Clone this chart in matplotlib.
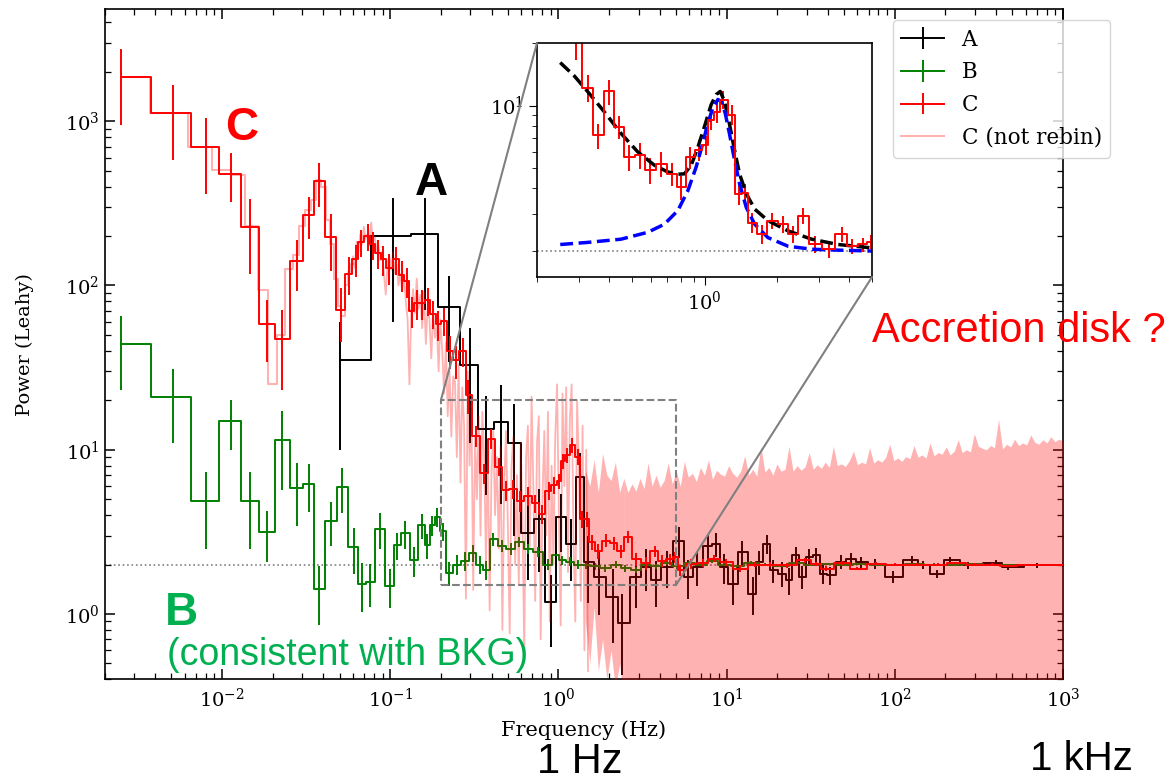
import matplotlib
matplotlib.use("Agg")
import matplotlib.pyplot as plt
import numpy as np
from matplotlib.lines import Line2D
from matplotlib.patches import ConnectionPatch
from matplotlib.ticker import NullFormatter

plt.rcParams['font.family'] = 'DejaVu Serif'
plt.rcParams['mathtext.fontset'] = 'dejavuserif'

# A (black, rebinned)
freq_a = [0.0504, 0.104, 0.16, 0.224, 0.298, 0.371, 0.456, 0.547, 0.656, 0.77,
          0.9, 1.04, 1.19, 1.35, 1.5, 1.75, 2.1, 2.4, 2.9, 3.3,
          3.8, 4.4, 5.2, 5.9, 6.7, 7.7, 8.6, 9.6, 10.9, 12.4,
          14.3, 15.6, 17.3, 19.0, 21.4, 23.5, 25.7, 28.0, 31.0, 34.0,
          37.6, 41.0, 48.0, 55.0, 63.0, 76.0, 98.0, 126.0, 148.0, 178.0,
          214.0, 273.0, 398.0, 470.0, 700.0, 1000.0]
power_a = [35, 200, 206, 74, 33, 13.3, 14.7, 11, 3.1, 3.8,
           1.18, 3.9, 2.68, 6.8, 2.07, 1.68, 1.27, 0.875, 1.68, 1.93,
           1.6, 1.93, 2.8, 1.68, 1.93, 2.6, 2.68, 1.93, 1.53, 2.4,
           1.33, 2.07, 2.68, 1.84, 1.76, 1.6, 2.27, 1.68, 2.22, 2.27,
           1.76, 1.72, 2.07, 2.17, 2.07, 2.02, 1.68, 2.12, 1.98, 1.76,
           2.12, 1.98, 2.04, 1.93, 1.98, 1.98]
err_a = [25, 140, 135, 40, 22, 8, 10, 8, 1.5, 2.0,
         0.55, 1.5, 1.1, 2.8, 0.9, 0.7, 0.6, 0.45, 0.6, 0.55,
         0.5, 0.5, 0.6, 0.45, 0.45, 0.45, 0.45, 0.4, 0.4, 0.4,
         0.35, 0.35, 0.35, 0.3, 0.3, 0.3, 0.28, 0.27, 0.26, 0.25,
         0.24, 0.22, 0.2, 0.18, 0.16, 0.15, 0.14, 0.12, 0.11, 0.1,
         0.1, 0.09, 0.08, 0.08, 0.07, 0.06]

# B (green, rebinned)
freq_b = [2.49e-3, 5.11e-3, 8.0e-3, 1.13e-2, 1.46e-2, 1.85e-2, 2.27e-2, 2.78e-2, 3.30e-2, 3.78e-2,
          4.44e-2, 5.2e-2, 6.05e-2, 6.8e-2, 7.6e-2, 8.7e-2, 0.100, 0.110, 0.123, 0.139,
          0.154, 0.166, 0.178, 0.19, 0.205, 0.225, 0.25, 0.28, 0.31, 0.34,
          0.37, 0.41, 0.46, 0.52, 0.58, 0.66, 0.76, 0.87, 0.97, 1.05,
          1.17, 1.3, 1.45, 1.65, 1.9, 2.2, 2.5, 2.9, 3.3, 3.8,
          4.4, 5.1, 6.0, 7.0, 8.2, 9.6, 11.5, 14.0, 17.0, 21.0,
          26.0, 32.0, 40.0, 50.0, 63.0, 80.0, 100.0, 130.0, 170.0, 220.0,
          290.0, 380.0, 500.0, 650.0, 850.0, 1000.0]
power_b = [44, 21, 4.9, 15, 4.9, 3.16, 11.5, 5.85, 6.2, 1.41,
           3.7, 5.9, 2.56, 1.53, 1.56, 3.3, 1.49, 2.62, 3.09, 2.12,
           3.47, 2.62, 3.47, 3.9, 3.2, 1.77, 2.0, 2.1, 2.35, 2.0,
           1.86, 2.85, 2.6, 2.5, 2.74, 2.5, 2.4, 2.0, 2.3, 2.12,
           2.08, 2.0, 2.0, 1.95, 1.9, 2.0, 1.9, 1.85, 2.0, 1.95,
           2.05, 1.95, 2.05, 2.0, 2.1, 2.0, 1.95, 2.05, 2.0, 1.97,
           2.03, 2.0, 2.02, 1.98, 2.01, 2.0, 1.99, 2.02, 2.0, 1.99,
           2.01, 2.0, 1.99, 2.0, 2.0, 2.0]
err_b = [21, 10, 2.4, 5, 2.4, 1.1, 5.8, 2.4, 2.0, 0.55,
         1.1, 1.8, 0.8, 0.5, 0.45, 0.8, 0.4, 0.5, 0.6, 0.45,
         0.6, 0.45, 0.5, 0.5, 0.4, 0.3, 0.28, 0.27, 0.27, 0.25,
         0.24, 0.25, 0.22, 0.2, 0.2, 0.18, 0.17, 0.15, 0.15, 0.14,
         0.13, 0.12, 0.11, 0.1, 0.1, 0.09, 0.09, 0.08, 0.08, 0.07,
         0.07, 0.06, 0.06, 0.06, 0.05, 0.05, 0.05, 0.05, 0.04, 0.04,
         0.04, 0.04, 0.03, 0.03, 0.03, 0.03, 0.03, 0.03, 0.03, 0.03,
         0.03, 0.02, 0.02, 0.02, 0.02, 0.02]

# C (red, rebinned)
freq_c = [2.49e-3, 5.11e-3, 8.0e-3, 1.13e-2, 1.46e-2, 1.85e-2, 2.27e-2, 2.78e-2, 3.30e-2, 3.78e-2,
          4.44e-2, 5.08e-2, 5.7e-2, 6.22e-2, 6.72e-2, 7.33e-2, 7.88e-2, 8.45e-2, 9.08e-2, 9.86e-2,
          0.108, 0.117, 0.125, 0.134, 0.1435, 0.154, 0.167, 0.18, 0.193, 0.21,
          0.226, 0.246, 0.27, 0.291,
          0.325, 0.36, 0.398, 0.441, 0.485, 0.537, 0.594, 0.659, 0.73, 0.80,
          0.874, 0.944, 1.01, 1.066, 1.13, 1.2, 1.3, 1.39, 1.47, 1.58,
          1.73, 1.91, 2.13, 2.34, 2.58, 2.89, 3.3, 3.73, 4.13, 4.6,
          4.95,
          5.3, 6.1, 7.2, 8.4, 9.9, 12.0, 14.8, 18.0, 22.8, 29.4,
          34.0, 39.0, 48.6, 60.0, 77.0, 100.0, 133.0, 180.0, 231.0, 300.0,
          380.0, 470.0, 600.0, 800.0, 1000.0]
power_c = [1850, 1120, 700, 480, 228, 58, 47, 140, 270, 430,
           198, 71, 118, 144, 183, 200, 178, 158, 144, 128,
           144, 116, 106, 70, 78, 78, 81, 67, 58, 61,
           40, 35, 40, 21.5,
           12.2, 7.2, 11.7, 7.9, 5.67, 5.78, 4.9, 5.26, 4.71, 4.06,
           5.64, 6.1, 6.46, 8.55, 9.28, 10.7, 9.04, 3.77, 3.8, 2.74,
           2.41, 2.8, 2.69, 2.41, 2.96, 2.15, 2.04, 2.41, 2.11, 2.15,
           2.22,
           1.84, 2.02, 2.05, 2.17, 2.07, 1.89, 2.0, 2.0, 1.98, 2.12,
           2.02, 1.89, 2.04, 1.89, 2.02, 2.0, 2.0, 2.0, 2.05, 2.0,
           2.0, 1.96, 1.98, 1.99, 1.98]
err_c = [900, 540, 340, 160, 110, 24, 24, 48, 78, 130,
         75, 26, 30, 32, 35, 38, 35, 32, 30, 28,
         28, 25, 22, 15, 16, 16, 16, 13, 12, 12,
         9, 8, 8, 5,
         1.8, 1.0, 1.6, 1.0, 0.8, 0.8, 0.7, 0.7, 0.6, 0.55,
         0.7, 0.7, 0.7, 0.9, 1.0, 1.1, 1.0, 0.45, 0.4, 0.3,
         0.25, 0.25, 0.25, 0.22, 0.25, 0.2, 0.18, 0.2, 0.18, 0.17,
         0.17,
         0.14, 0.13, 0.12, 0.11, 0.1, 0.09, 0.08, 0.08, 0.07, 0.07,
         0.06, 0.06, 0.05, 0.05, 0.04, 0.04, 0.04, 0.03, 0.03, 0.03,
         0.03, 0.02, 0.02, 0.02, 0.02]

# C not rebinned: single bins at low frequency
freq_raw = [0.0025, 0.005, 0.0075, 0.01, 0.0125, 0.015, 0.0175, 0.02, 0.0225, 0.025,
            0.0275, 0.03, 0.0325, 0.035, 0.0375, 0.04, 0.0425, 0.045, 0.0475, 0.05,
            0.0525, 0.055, 0.0575, 0.06]
power_raw = [1850, 1120, 700, 505, 470, 230, 94, 25, 50, 126,
             154, 230, 290, 330, 440, 400, 250, 180, 110, 75,
             65, 100, 120, 135]
# dense part 0.06-1.5 Hz, values read at evenly spaced pixel columns
raw_mid = [150, 128, 185, 160, 205, 178, 228, 192, 206, 175,
           242, 185, 198, 160, 176, 142, 160, 118, 88, 138,
           150, 125, 160, 118, 135, 100, 118, 92, 115, 80,
           62, 25, 70, 95, 68, 110, 72, 88, 55, 92,
           44, 75, 62, 36, 70, 48, 58, 30, 62, 40,
           22, 45, 16, 30, 12, 28, 26, 9, 33, 6.3,
           24, 14, 1.24, 30, 8, 19, 1.4, 12, 5, 16,
           3, 17, 9, 2, 11, 1.05, 7, 13, 4, 9,
           2.5, 10.4, 0.8, 6, 13, 3.5, 0.76, 8, 12, 2,
           7, 1.5, 11, 4, 0.57, 9, 14, 2.5, 21, 6,
           1.2, 11, 16, 0.7, 5, 13, 3, 17, 0.9, 8,
           2, 12, 25, 4, 0.85, 22, 6, 24, 1.8, 15,
           25, 3, 0.9, 20, 8, 1.2, 14, 0.6, 10, 0.45]
# 1.45-2.45 Hz band: lower and upper edges
band_top = [7.5, 6.0, 8.7, 5.5, 9.5, 7.0, 6.5, 8.4, 5.5, 6.7]
band_low = [0.9, 0.5, 1.1, 0.45, 0.7, 0.4, 0.6, 0.35, 0.5, 0.3]
# upper edge of the noise above 2.4 Hz
raw_top = [6.7, 5.5, 6.2, 5.6, 6.7, 5.8, 8.3, 6.0, 7.0, 5.9,
           6.5, 8.3, 6.2, 7.4, 6.0, 8.5, 6.8, 7.2, 6.4, 7.8,
           7.0, 8.7, 6.6, 7.5, 7.1, 6.9, 8.0, 7.2, 6.8, 7.4,
           9.2, 7.0, 7.6, 6.9, 10.5, 7.3, 7.8, 7.0, 8.2, 7.4,
           7.6, 10.5, 7.4, 8.0, 7.5, 7.9, 9.6, 7.6, 8.1, 7.7,
           8.4, 7.8, 10.5, 8.0, 8.2, 7.9, 8.6, 9.8, 8.1, 8.4,
           8.2, 10.3, 8.3, 8.7, 8.4, 9.0, 10.8, 8.6, 8.9, 8.5,
           9.1, 8.8, 10.6, 9.0, 9.3, 8.9, 11.0, 9.2, 9.6, 9.4,
           10.4, 9.3, 9.8, 11.5, 9.6, 10.0, 9.7, 12.5, 10.5, 10.2,
           10.0, 10.6, 10.3, 15.3, 10.1, 10.8, 10.4, 11.6, 10.6, 11.0,
           10.7, 12.3, 11.1, 10.8, 11.5, 11.0, 12.0, 11.2, 11.6, 11.3]

# inset model curves
model_f = [0.25, 0.286, 0.325, 0.38, 0.448, 0.526, 0.618, 0.702, 0.774, 0.825,
           0.88, 0.938, 1.0, 1.066, 1.119, 1.163, 1.212, 1.27, 1.335, 1.4,
           1.494, 1.62, 1.84, 2.23, 2.8, 3.61, 5.0]
model_total = [16.1, 13.9, 11.7, 9.4, 7.36, 6.0, 5.17, 4.8, 4.68, 4.7,
               5.17, 6.3, 7.94, 10.1, 11.3, 11.7, 10.5, 8.2, 6.1, 4.7,
               3.77, 3.18, 2.8, 2.5, 2.28, 2.15, 2.07]
qpo_f = [0.25, 0.325, 0.448, 0.579, 0.68, 0.774, 0.852, 0.923, 0.984, 1.032,
         1.083, 1.137, 1.174, 1.22, 1.27, 1.335, 1.4, 1.494, 1.62, 1.84,
         2.23, 2.8, 3.61, 5.0]
qpo_p = [2.15, 2.2, 2.28, 2.46, 2.69, 3.13, 3.9, 5.07, 6.6, 8.2,
         9.74, 10.7, 10.5, 9.2, 7.36, 5.47, 4.22, 3.24, 2.69, 2.32,
         2.11, 2.04, 2.02, 2.0]

zoom_x = (0.2, 5.0)
zoom_y = (1.5, 20.0)
noise_level = 2.0

fig = plt.figure(figsize=(11.73, 7.83), dpi=100)
ax = fig.add_axes([0.0891, 0.1324, 0.8171, 0.8557])
ax.set_xscale('log')
ax.set_yscale('log')

ax.axhline(noise_level, color='grey', ls=':', lw=1.2, zorder=1)
eb_a = ax.errorbar(freq_a, power_a, yerr=err_a, color='black', lw=1.4,
                   elinewidth=1.4, drawstyle='steps-mid', zorder=2)
eb_b = ax.errorbar(freq_b, power_b, yerr=err_b, color='green', lw=1.4,
                   elinewidth=1.4, drawstyle='steps-mid', zorder=2)

ax.plot(freq_raw, power_raw, drawstyle='steps-mid', color='red', alpha=0.3, lw=1.5, zorder=3)
ax.plot(np.geomspace(0.06, 1.5, len(raw_mid)), raw_mid, color='red', alpha=0.3, lw=1.3, zorder=3)
ax.fill_between(np.geomspace(1.45, 2.45, len(band_top)), band_low, band_top,
                color='red', alpha=0.3, lw=0, zorder=3)
ax.fill_between(np.geomspace(2.45, 1000, len(raw_top)), 0.1, raw_top,
                color='red', alpha=0.3, lw=0, zorder=3)

eb_c = ax.errorbar(freq_c, power_c, yerr=err_c, color='red', lw=1.4,
                   elinewidth=1.4, drawstyle='steps-mid', zorder=4)

ax.plot([zoom_x[0], zoom_x[1], zoom_x[1], zoom_x[0], zoom_x[0]],
        [zoom_y[0], zoom_y[0], zoom_y[1], zoom_y[1], zoom_y[0]],
        ls='--', color='grey', lw=1.5, zorder=5)

ax.set_xlim(2e-3, 1e3)
ax.set_ylim(0.4, 4800)
ax.tick_params(which='both', direction='in', top=True, right=True, labelsize=14)
ax.tick_params(axis='x', pad=6)
ax.tick_params(which='major', length=7, width=1.1)
ax.tick_params(which='minor', length=4, width=0.9)
for s in ax.spines.values():
    s.set_linewidth(1.2)
ax.set_xlabel('Frequency (Hz)', fontsize=15, labelpad=7)
ax.set_ylabel('Power (Leahy)', fontsize=14, labelpad=22)

raw_handle = Line2D([], [], color='red', alpha=0.3, lw=1.5)
ax.legend([eb_a, eb_b, eb_c, raw_handle], ['A', 'B', 'C', 'C (not rebin)'],
          loc='upper left', bbox_to_anchor=(0.8223, 0.984), borderaxespad=0,
          fontsize=15.5, framealpha=0.8)

# inset
ins = fig.add_axes([0.4578, 0.6462, 0.2856, 0.2989])
ins.set_xscale('log')
ins.set_yscale('log')
ins.axhline(noise_level, color='grey', ls=':', lw=1.2)
ins.errorbar(freq_c, power_c, yerr=err_c, color='red', lw=1.4,
             elinewidth=1.4, drawstyle='steps-mid')
ins.plot(model_f, model_total, '--', color='black', lw=2.5)
ins.plot(qpo_f, qpo_p, '--', color='blue', lw=2.5)
ins.set_xlim(*zoom_x)
ins.set_ylim(*zoom_y)
ins.xaxis.set_minor_formatter(NullFormatter())
ins.yaxis.set_minor_formatter(NullFormatter())
ins.tick_params(which='both', direction='out', labelsize=14)
ins.tick_params(which='major', length=6)
ins.tick_params(which='minor', length=3.5)
for s in ins.spines.values():
    s.set_linewidth(1.2)

for xy_a, xy_b in [((zoom_x[0], zoom_y[1]), (0, 1)), ((zoom_x[1], zoom_y[0]), (1, 0))]:
    con = ConnectionPatch(xyA=xy_a, coordsA='data', axesA=ax,
                          xyB=xy_b, coordsB='axes fraction', axesB=ins,
                          color='grey', lw=1.5)
    fig.add_artist(con)

# annotations
sans = 'Liberation Sans'
fig.text(0.1918, 0.8212, 'C', color='#ff0000', fontsize=33, fontweight='bold', family=sans)
fig.text(0.3538, 0.7510, 'A', color='black', fontsize=33, fontweight='bold', family=sans)
fig.text(0.1407, 0.2018, 'B', color='#00b050', fontsize=33, fontweight='bold', family=sans)
fig.text(0.1424, 0.1507, '(consistent with BKG)', color='#00b050', fontsize=27, family=sans)
fig.text(0.7434, 0.5636, 'Accretion disk ?', color='#ff0000', fontsize=30, family=sans)
fig.text(0.4578, 0.0125, '1 Hz', color='black', fontsize=30, family=sans)
fig.text(0.8781, 0.0166, '1 kHz', color='black', fontsize=29, family=sans)

fig.savefig('out.png', dpi=100)
